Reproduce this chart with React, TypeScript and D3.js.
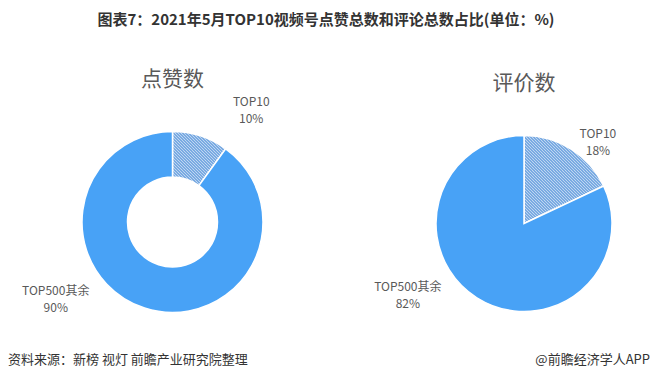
import React from "react";
import * as d3 from "d3";

const titleText = "图表7：2021年5月TOP10视频号点赞总数和评论总数占比(单位：%)";
const sourceText = "资料来源：新榜 视灯 前瞻产业研究院整理";
const brandText = "@前瞻经济学人APP";

const categories = ["TOP10", "TOP500其余"];
const likeValues = [10, 90];
const commentValues = [18, 82];
const chartTitles = ["点赞数", "评价数"];

const W = 651;
const H = 375;
const BLUE = "#48A2F6";
const HATCH = "#2F7BD2";
const GRAY = "#595959";
const FONT = "'Noto Sans CJK SC', 'Noto Sans', sans-serif";

type PieSpec = {
  values: number[];
  title: string;
  cx: number;
  cy: number;
  r: number;
  inner: number;
  labelOffsets: [number, number][]; // relative to center, as fraction of r
};

function PieChart({ spec }: { spec: PieSpec }) {
  const pie = d3.pie<number>().sort(null).value((d) => d);
  const arcs = pie(spec.values);
  const arc = d3
    .arc<d3.PieArcDatum<number>>()
    .innerRadius(spec.inner)
    .outerRadius(spec.r);
  return (
    <g transform={`translate(${spec.cx},${spec.cy})`}>
      <text
        x={0}
        y={-spec.r - 51}
        textAnchor="middle"
        fontSize={21}
        fill={GRAY}
        fontFamily={FONT}
        dominantBaseline="middle"
      >
        {spec.title}
      </text>
      {arcs.map((a, i) => (
        <path
          key={i}
          d={arc(a) || ""}
          fill={i === 0 ? "url(#hatch)" : BLUE}
          stroke="#fff"
          strokeWidth={1.5}
        />
      ))}
      {arcs.map((a, i) => {
        const [fx, fy] = spec.labelOffsets[i];
        const lx = fx * spec.r;
        const ly = fy * spec.r;
        return (
          <g key={"l" + i}>
            <text
              x={lx}
              y={ly - 8.5}
              textAnchor="middle"
              dominantBaseline="middle"
              fontSize={12}
              fill={GRAY}
              fontFamily={FONT}
            >
              {categories[i]}
            </text>
            <text
              x={lx}
              y={ly + 8.5}
              textAnchor="middle"
              dominantBaseline="middle"
              fontSize={12}
              fill={GRAY}
              fontFamily={FONT}
            >
              {`${spec.values[i]}%`}
            </text>
          </g>
        );
      })}
    </g>
  );
}

export default function App() {
  const specs: PieSpec[] = [
    {
      values: likeValues,
      title: chartTitles[0],
      cx: 172.5,
      cy: 222,
      r: 90.5,
      inner: 45,
      labelOffsets: [
        [0.87, -1.22],
        [-1.29, 0.86],
      ],
    },
    {
      values: commentValues,
      title: chartTitles[1],
      cx: 524,
      cy: 223.5,
      r: 88,
      inner: 0,
      labelOffsets: [
        [0.84, -0.91],
        [-1.32, 0.83],
      ],
    },
  ];
  return (
    <svg
      width={W}
      height={H}
      style={{ position: "absolute", left: 0, top: 0, background: "#fff" }}
    >
      <defs>
        <pattern
          id="hatch"
          patternUnits="userSpaceOnUse"
          width={3}
          height={3}
        >
          <rect width={3} height={3} fill="#fff" />
          <path
            d="M-1,-1 L4,4 M-1,2 L1,4 M2,-1 L4,1"
            stroke={HATCH}
            strokeWidth={1.2}
          />
        </pattern>
      </defs>
      <text
        x={326}
        y={21}
        textAnchor="middle"
        dominantBaseline="middle"
        fontSize={15}
        fontWeight="bold"
        fill="#333"
        fontFamily={FONT}
      >
        {titleText}
      </text>
      {specs.map((s, i) => (
        <PieChart key={i} spec={s} />
      ))}
      <text
        x={8}
        y={360}
        dominantBaseline="middle"
        fontSize={13}
        fill="#333"
        fontFamily={FONT}
      >
        {sourceText}
      </text>
      <text
        x={650}
        y={360}
        textAnchor="end"
        dominantBaseline="middle"
        fontSize={13}
        fill="#333"
        fontFamily={FONT}
      >
        {brandText}
      </text>
    </svg>
  );
}
